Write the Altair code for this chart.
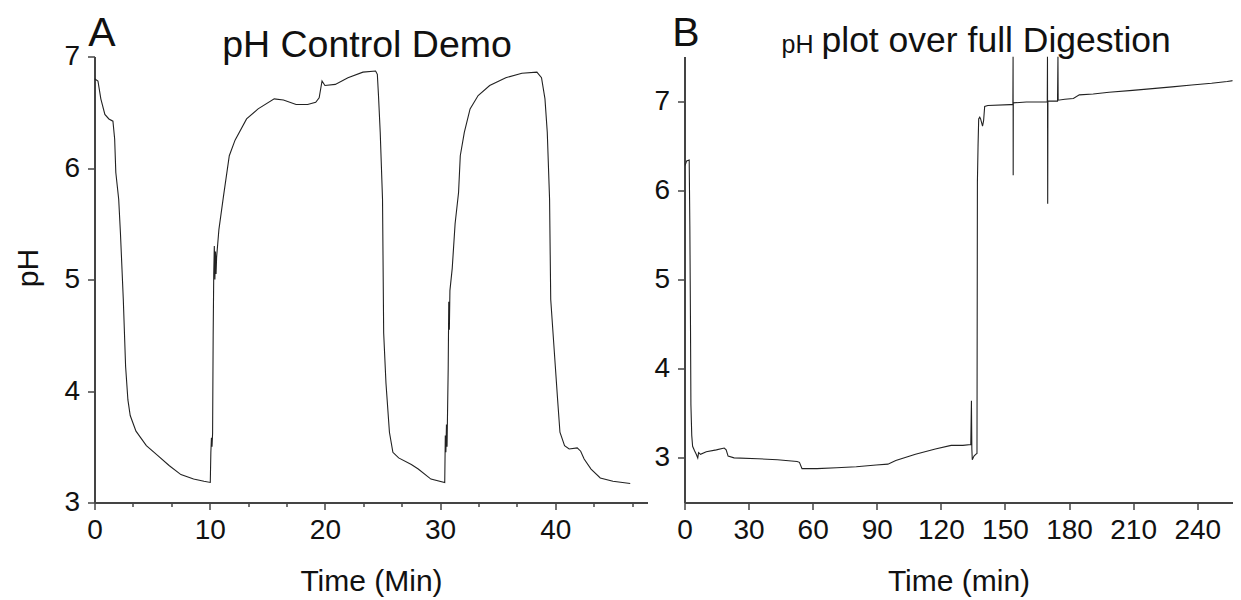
import altair as alt
import pandas as pd

FONT = "Liberation Sans"

# ---- Panel A: pH Control Demo (time in min, pH) ----
A_TIME = [0, 0.3, 0.55, 0.9, 1.25, 1.6, 1.75, 1.85, 2.1, 2.25, 2.5, 2.7, 2.9, 3.1, 3.6,
          4.5, 5.5, 6.5, 7.5, 8.6, 9.5, 10.05, 10.1, 10.15, 10.2, 10.25, 10.3, 10.35, 10.4,
          10.45, 10.5, 10.55, 10.6, 10.8, 11.2, 11.7, 12.2, 13.2, 14.2, 15.6, 16.4, 17.5,
          18.5, 19.2, 19.5, 19.75, 20.0, 20.9, 22.0, 23.3, 24.4, 24.55, 24.65, 24.8, 25.0,
          25.1, 25.3, 25.6, 25.9, 26.4, 27.5, 28.1, 29.2, 30.4, 30.45, 30.5, 30.55, 30.6,
          30.7, 30.75, 30.8, 30.85, 31.05, 31.3, 31.6, 31.75, 32.1, 32.6, 33.3, 34.3, 35.7,
          37.1, 38.4, 38.8, 39.1, 39.3, 39.5, 39.6, 40.0, 40.2, 40.4, 40.8, 41.2, 41.9, 42.2,
          42.5, 43.1, 43.9, 45.0, 46.5]
A_PH = [6.80, 6.78, 6.62, 6.48, 6.44, 6.42, 6.26, 5.96, 5.72, 5.42, 4.82, 4.22, 3.92, 3.78,
        3.64, 3.51, 3.42, 3.33, 3.25, 3.21, 3.19, 3.18, 3.45, 3.58, 3.50, 3.62, 4.50, 5.05,
        5.30, 5.00, 5.25, 5.05, 5.20, 5.45, 5.75, 6.11, 6.25, 6.44, 6.53, 6.62, 6.61, 6.57,
        6.57, 6.59, 6.63, 6.78, 6.74, 6.75, 6.81, 6.86, 6.87, 6.84, 6.65, 6.32, 5.72,
        4.52, 4.07, 3.63, 3.45, 3.40, 3.34, 3.30, 3.21, 3.18, 3.60, 3.45, 3.70, 3.50,
        4.20, 4.80, 4.55, 4.90, 5.10, 5.50, 5.78, 6.11, 6.32, 6.53, 6.65, 6.74, 6.81,
        6.85, 6.86, 6.81, 6.62, 6.32, 5.72, 4.82, 4.22, 3.92, 3.63, 3.51, 3.48, 3.49, 3.46,
        3.39, 3.30, 3.22, 3.19, 3.17]
A_XTICKS = [0, 10, 20, 30, 40]
A_MINOR = [3.333, 6.667, 13.333, 16.667, 23.333, 26.667, 33.333, 36.667, 43.333, 46.667]
A_YTICKS = [3, 4, 5, 6, 7]

# ---- Panel B: pH plot over full Digestion ----
B_TIME = [0.3, 1.0, 2.2, 2.5, 2.8, 3.0, 3.4, 3.8, 4.7, 5.5, 6.2, 6.6, 7.5, 10.2, 14.9, 18.6,
          19.5, 20.4, 23.2, 34.3, 43.5, 52.7, 53.8, 55.0, 62, 71.2, 80.4, 89.7, 95.2, 98.9,
          108.1, 117.4, 124.8, 130.3, 134.0, 134.3, 134.5, 134.7, 135.5, 136.3, 136.9, 137.1,
          137.4, 137.7, 138.2, 138.6, 139.5, 140.0, 140.5, 142, 152.5, 153.7, 153.8, 153.85,
          153.9, 160, 169.8, 169.9, 170.0, 170.1, 174.6, 174.8, 174.9, 178, 182, 184.8, 191.3,
          198.7, 209.7, 219, 228.2, 237.4, 246.7, 254, 260]
B_PH = [6.28, 6.33, 6.34, 5.60, 4.50, 3.60, 3.25, 3.13, 3.08, 3.04, 3.00, 3.06, 3.04, 3.07,
        3.09, 3.11, 3.09, 3.02, 3.00, 2.99, 2.98, 2.96, 2.95, 2.88, 2.88, 2.89, 2.90, 2.92,
        2.93, 2.97, 3.04, 3.10, 3.14, 3.14, 3.15, 3.64, 3.10, 2.98, 3.02, 3.04, 3.05, 6.10,
        6.50, 6.80, 6.82, 6.80, 6.72, 6.78, 6.94, 6.95, 6.96, 6.96, 7.50, 6.17,
        6.98, 6.99, 6.99, 7.50, 5.85, 7.00, 7.00, 7.50, 7.01, 7.02, 7.03, 7.07, 7.08,
        7.10, 7.12, 7.14, 7.16, 7.18, 7.20, 7.22, 7.24]
B_XTICKS = [0, 30, 60, 90, 120, 150, 180, 210, 240]
B_YTICKS = [3, 4, 5, 6, 7]

PANEL_LETTERS = ["A", "B"]
TITLE_A = ["pH Control Demo"]
TITLE_B_SMALL = ["pH"]
TITLE_B_REST = ["plot over full Digestion"]

AX = "#444444"
INK = "#222222"


def base_axis(**kw):
    d = dict(grid=False, domainColor=AX, domainWidth=2, tickColor=AX, tickWidth=1.5,
             tickSize=7, labelFont=FONT, labelColor="#111111", labelFlush=False,
             labelOverlap=False, titleFont=FONT, titleFontWeight="normal",
             titleColor="#111111")
    d.update(kw)
    return alt.Axis(**d)


def text_layer(values, fs, x, y, align="center"):
    df = pd.DataFrame({"s": values})
    return alt.Chart(df).mark_text(font=FONT, fontSize=fs, align=align, baseline="alphabetic",
                                   color="#111111").encode(
        x=alt.value(x), y=alt.value(y), text="s:N")


# Panel A
W_A, H = 553, 446
dfa = pd.DataFrame({"t": A_TIME, "ph": A_PH, "i": list(range(len(A_TIME)))})
xa_scale = alt.Scale(domain=[0, 48], nice=False, zero=False)
line_a = alt.Chart(dfa).mark_line(color=INK, strokeWidth=1.1, clip=True).encode(
    x=alt.X("t:Q", scale=xa_scale,
            axis=base_axis(values=A_XTICKS, format="d", title="Time (Min)", orient="bottom",
                           labelFontSize=28, labelPadding=7, titleFontSize=30, titlePadding=22)),
    y=alt.Y("ph:Q", scale=alt.Scale(domain=[3, 7], nice=False, zero=False),
            axis=base_axis(values=A_YTICKS, format="d", title="pH", labelFontSize=28,
                           labelPadding=8, titleFontSize=30, titlePadding=20, titleY=211)),
    order="i:Q")
minor_a = alt.Chart(pd.DataFrame({"m": A_MINOR})).mark_point(opacity=0).encode(
    x=alt.X("m:Q", scale=xa_scale,
            axis=alt.Axis(values=A_MINOR, labels=False, domain=False, grid=False, ticks=True,
                          tickSize=4, tickWidth=1.5, tickColor=AX, title=None, orient="bottom")))
chart_a = alt.layer(
    line_a, minor_a,
    text_layer([PANEL_LETTERS[0]], 41, 7.5, -11),
    text_layer(TITLE_A, 37.5, 272.5, 0),
).resolve_axis(x="independent").properties(width=W_A, height=H)

# Panel B
W_B = 548
dfb = pd.DataFrame({"t": B_TIME, "ph": B_PH, "i": list(range(len(B_TIME)))})
line_b = alt.Chart(dfb).mark_line(color=INK, strokeWidth=1.1, clip=True).encode(
    x=alt.X("t:Q", scale=alt.Scale(domain=[0, 256.5], nice=False, zero=False),
            axis=base_axis(values=B_XTICKS, format="d", title="Time (min)", orient="bottom",
                           labelFontSize=28, labelPadding=7, titleFontSize=30, titlePadding=22)),
    y=alt.Y("ph:Q", scale=alt.Scale(domain=[2.5, 7.5], nice=False, zero=False),
            axis=base_axis(values=B_YTICKS, format="d", title=None, labelFontSize=28,
                           labelPadding=8)),
    order="i:Q")
chart_b = alt.layer(
    line_b,
    text_layer([PANEL_LETTERS[1]], 41, 1.5, -11),
    text_layer(TITLE_B_SMALL, 25, 97, -4, align="left"),
    text_layer(TITLE_B_REST, 35.5, 137, -5, align="left"),
).properties(width=W_B, height=H)

chart = alt.hconcat(chart_a, chart_b, spacing=6).properties(
    padding={"left": 5.5, "top": 4.5, "right": 0, "bottom": 0}
).configure(background="white").configure_view(stroke=None)

chart.save("out.html", embed_options={"renderer": "svg", "actions": False})
